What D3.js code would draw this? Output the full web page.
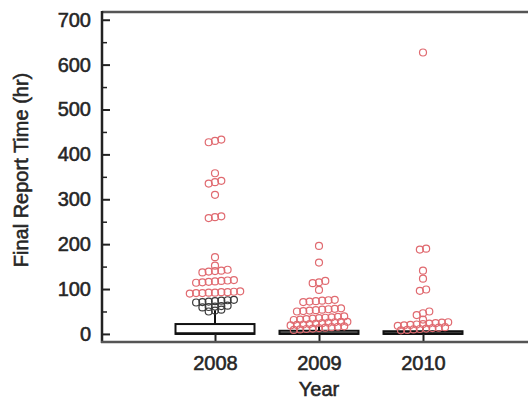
<!DOCTYPE html>
<html>
<head>
<meta charset="utf-8">
<script src="https://cdn.jsdelivr.net/npm/d3@7/dist/d3.min.js"></script>
<style>
  html, body { margin: 0; padding: 0; background: #fff; }
  svg { display: block; }
  text { font-family: "Liberation Sans", Arial, Helvetica, sans-serif; fill: #262626; stroke: #262626; stroke-width: 0.55px; }
</style>
</head>
<body>
<svg id="chart" width="528" height="402"></svg>
<script>
// ---------- data ----------
const years = ["2008", "2009", "2010"];
const yTicks = [0, 100, 200, 300, 400, 500, 600, 700];

// box statistics per year
const boxQ1 = [0, 0, 0];
const boxMedian = [1, 1, 1];
const boxQ3 = [22, 7, 6];
const whiskerLow = [0, 0, 0];
const whiskerHigh = [53, 17, 15];

// outliers (dark) and extreme values (red) per year
const dark2008 = [50, 52, 54, 59, 60, 61, 62, 63, 70, 71, 72, 73, 74, 75, 76];
const red2008 = [90, 91, 91, 92, 92, 93, 93, 94, 95, 114, 115, 116, 117, 118, 119, 120,
  137, 139, 140, 141, 143, 152, 171, 258, 260, 262, 310, 335, 338, 341, 358, 427, 430, 433];
const dark2009 = [];
const red2009 = [9, 10, 11, 12, 13, 14, 15, 16, 17, 19, 20, 21, 22, 23, 24, 25, 26, 27, 27,
  31, 32, 33, 34, 35, 36, 37, 38, 39, 50, 51, 52, 53, 54, 55, 56, 57, 71, 72, 73, 74, 75, 76,
  98, 113, 115, 118, 159, 196];
const dark2010 = [];
const red2010 = [8, 9, 10, 11, 12, 13, 14, 15, 18, 19, 20, 21, 22, 23, 24, 25, 26, 32,
  42, 46, 50, 96, 99, 123, 141, 188, 190, 627];

const darkPoints = [dark2008, dark2009, dark2010];
const redPoints = [red2008, red2009, red2010];

// ---------- layout ----------
const svg = d3.select("#chart");
const plotLeft = 102, plotRight = 540, plotTop = 12, plotBottom = 342;

const y = d3.scaleLinear().domain([-18, 715]).range([plotBottom, plotTop + 1]);
const x = d3.scalePoint().domain(years).range([215, 423]);

const boxHalf = 39.5;
const rowBin = 9;       // values within this range share a row
const spacing = 6.3;    // horizontal spacing of circles in a row (px)
const r = 3.5;

// top frame line
svg.append("line")
  .attr("x1", plotLeft).attr("x2", plotRight)
  .attr("y1", plotTop).attr("y2", plotTop)
  .attr("stroke", "#555").attr("stroke-width", 2.5);

// boxes
years.forEach((yr, i) => {
  const cx = x(yr);
  const g = svg.append("g");
  g.append("line").attr("x1", cx).attr("x2", cx)
    .attr("y1", y(boxQ3[i])).attr("y2", y(whiskerHigh[i]))
    .attr("stroke", "#111").attr("stroke-width", 2);
  g.append("line").attr("x1", cx).attr("x2", cx)
    .attr("y1", y(boxQ1[i])).attr("y2", y(whiskerLow[i]))
    .attr("stroke", "#111").attr("stroke-width", 2);
  g.append("rect")
    .attr("x", cx - boxHalf).attr("width", boxHalf * 2)
    .attr("y", y(boxQ3[i])).attr("height", Math.max(0, y(boxQ1[i]) - y(boxQ3[i])))
    .attr("fill", "#fff").attr("stroke", "#111").attr("stroke-width", 2);
  g.append("line").attr("x1", cx - boxHalf).attr("x2", cx + boxHalf)
    .attr("y1", y(boxMedian[i])).attr("y2", y(boxMedian[i]))
    .attr("stroke", "#111").attr("stroke-width", 2.5);
});

// points: group into rows by value, spread horizontally, centered
years.forEach((yr, i) => {
  const pts = darkPoints[i].map(v => ({ v, c: "dark" }))
    .concat(redPoints[i].map(v => ({ v, c: "red" })))
    .sort((a, b) => a.v - b.v);
  const rows = [];
  let cur = null;
  pts.forEach(p => {
    if (!cur || p.v - cur.start >= rowBin) { cur = { start: p.v, items: [] }; rows.push(cur); }
    cur.items.push(p);
  });
  rows.forEach(row => {
    const n = row.items.length;
    row.items.forEach((p, k) => { p.dx = (k - (n - 1) / 2) * spacing; });
  });
  svg.append("g").selectAll("circle").data(pts).join("circle")
    .attr("cx", d => x(yr) + d.dx)
    .attr("cy", d => y(d.v))
    .attr("r", r)
    .attr("fill", "none")
    .attr("stroke", d => d.c === "red" ? "#e06a70" : "#3a3a3a")
    .attr("stroke-width", 1.2);
});

// left axis (inward ticks)
const yAxis = d3.axisLeft(y).tickValues(yTicks).tickSize(-8).tickSizeOuter(0).tickPadding(11);
const gy = svg.append("g").attr("transform", `translate(${plotLeft},0)`).call(yAxis);
gy.select(".domain").remove();
gy.selectAll(".tick line").attr("stroke", "#222").attr("stroke-width", 2);
gy.selectAll(".tick text").attr("font-size", 20).attr("fill", "#262626")
  .style("font-family", '"Liberation Sans", Arial, sans-serif');

const minorTicks = yTicks.slice(0, -1).map(t => t + 50);
const yMinor = d3.axisLeft(y).tickValues(minorTicks).tickSize(-5).tickSizeOuter(0).tickFormat("");
const gym = svg.append("g").attr("transform", `translate(${plotLeft},0)`).call(yMinor);
gym.select(".domain").remove();
gym.selectAll(".tick line").attr("stroke", "#222").attr("stroke-width", 1.5);

svg.append("line")
  .attr("x1", plotLeft).attr("x2", plotLeft)
  .attr("y1", plotTop - 1).attr("y2", plotBottom + 1)
  .attr("stroke", "#222").attr("stroke-width", 2.5);

// bottom axis (inward ticks)
const xAxis = d3.axisBottom(x).tickSize(-8).tickSizeOuter(0).tickPadding(14);
const gx = svg.append("g").attr("transform", `translate(0,${plotBottom})`).call(xAxis);
gx.select(".domain").remove();
gx.selectAll(".tick line").attr("stroke", "#222").attr("stroke-width", 2);
gx.selectAll(".tick text").attr("font-size", 20).attr("fill", "#262626")
  .style("font-family", '"Liberation Sans", Arial, sans-serif');

svg.append("line")
  .attr("x1", plotLeft - 1).attr("x2", plotRight)
  .attr("y1", plotBottom).attr("y2", plotBottom)
  .attr("stroke", "#555").attr("stroke-width", 2.5);

// axis titles
svg.append("text")
  .attr("transform", "translate(28,170) rotate(-90)")
  .attr("text-anchor", "middle")
  .attr("font-size", 20)
  .text("Final Report Time (hr)");

svg.append("text")
  .attr("x", 319).attr("y", 396)
  .attr("text-anchor", "middle")
  .attr("font-size", 20)
  .text("Year");
</script>
</body>
</html>
